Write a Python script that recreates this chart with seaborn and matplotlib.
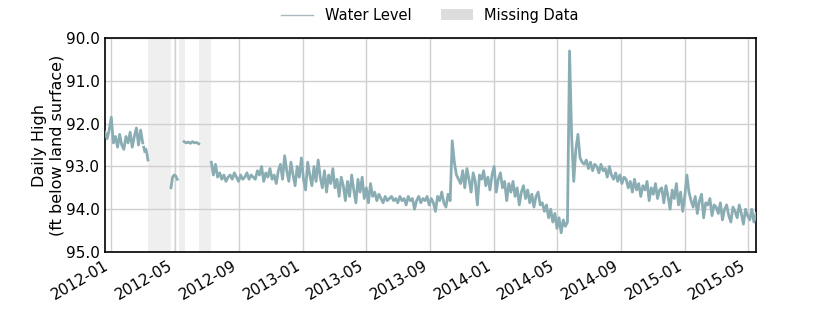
import numpy as np
import pandas as pd
import matplotlib
matplotlib.use("Agg")
import matplotlib.pyplot as plt
import matplotlib.dates as mdates
from matplotlib.lines import Line2D
from matplotlib.patches import Patch
import seaborn as sns

# ---- data ----
segA_start = "2011-12-20"
segA_vals = [92.2, 92.35, 92.15, 91.85, 92.45, 92.3, 92.55, 92.25, 92.5, 92.6,
             92.3, 92.45, 92.2, 92.55, 92.3, 92.1, 92.5, 92.15, 92.45]
segB_start = "2012-03-03"
segB_vals = [92.55, 92.65]
segC_start = "2012-03-07"
segC_vals = [92.6, 92.7, 92.85]
segD_start = "2012-04-24"
segD_vals = [93.5, 93.25, 93.2, 93.22, 93.3]
segE_start = "2012-05-19"
segE_vals = [92.42, 92.45, 92.43, 92.46, 92.42, 92.45, 92.44, 92.47]
segF_start = "2012-07-10"
segF_vals = [
    92.9, 93.2, 92.95, 93.25, 93.15, 93.3, 93.2, 93.35, 93.25, 93.2, 93.3, 93.15, 93.25, 93.35, 93.2, 93.3, 93.25, 93.15, 93.3, 93.2, 93.25,
    93.3, 93.1, 93.2, 93.0, 93.35, 93.15, 93.25, 93.05, 93.3, 93.2, 93.4, 93.1, 92.95, 93.3, 92.75, 93.1, 93.35, 92.9, 93.2, 93.45, 93.0, 93.25,
    92.8, 93.3, 93.55, 92.9, 93.2, 93.45, 93.0, 93.35, 92.85, 93.25, 93.5, 93.1, 93.6, 93.2, 93.4, 93.05, 93.5, 93.3, 93.7, 93.25, 93.45, 93.8,
    93.35, 93.7, 93.2, 93.55, 93.85, 93.3, 93.6, 93.25, 93.75, 93.5, 93.85, 93.4, 93.7, 93.6, 93.8, 93.65, 93.75, 93.85, 93.7, 93.8, 93.75,
    93.7, 93.8, 93.75, 93.85, 93.7, 93.8, 93.75, 93.9, 93.7, 93.8, 93.75, 94.0, 93.8, 93.7, 93.85, 93.75, 93.8, 93.7, 93.9, 93.75, 93.85, 94.05, 93.7, 93.8, 93.6, 93.85, 93.95, 93.65, 93.8,
    92.4,
    92.9, 93.2, 93.3,
    93.4, 93.1, 93.5, 93.05, 93.3, 93.6, 93.15, 93.35, 93.9, 93.2, 93.3, 93.1, 93.45, 93.25, 93.55, 93.2, 93.0, 93.6, 93.3, 93.15, 93.5, 93.35, 93.8,
    93.4, 93.6, 93.35, 93.7, 93.5, 93.9, 93.6, 93.45, 93.75, 93.55, 93.85, 93.65, 93.95, 93.7, 93.6, 93.9,
    93.85, 94.05, 93.9, 94.2, 94.0, 94.3, 94.1, 94.45, 94.2, 94.55, 94.25, 94.4, 94.3,
    90.3, 92.3, 93.35, 92.6, 92.25, 92.8, 92.9,
    92.95, 92.85, 93.05, 92.9, 93.1, 92.95, 93.0, 93.15,
    92.95, 93.1, 93.05, 93.25, 93.0, 93.2, 93.3, 93.15, 93.35, 93.2, 93.4, 93.25, 93.3, 93.5, 93.35, 93.6, 93.3, 93.55, 93.4, 93.7, 93.45, 93.55, 93.35, 93.8, 93.5, 93.65, 93.4, 93.75, 93.55,
    93.5, 93.85, 93.45, 93.7, 94.0, 93.55, 93.75, 93.4, 93.9, 93.6, 94.05, 93.7,
    93.2,
    93.6, 93.8, 93.95, 93.7, 94.1, 93.8, 93.65, 94.2, 93.85, 93.9, 93.75, 94.15, 93.9,
    93.95, 94.1, 93.85, 94.25, 94.0, 93.9, 94.15, 94.3, 93.95, 94.05, 94.2, 93.9, 94.1, 94.35, 94.0, 94.15, 94.25, 94.0, 94.3, 94.1,
]
missing_starts = ["2012-03-12", "2012-04-30", "2012-05-09", "2012-06-16"]
missing_ends = ["2012-04-24", "2012-05-01", "2012-05-20", "2012-07-10"]
y_ticks = [90.0, 91.0, 92.0, 93.0, 94.0, 95.0]
x_start, x_end = "2011-12-20", "2015-05-16"

segments = [
    (segA_start, "4D", segA_vals),
    (segB_start, "2D", segB_vals),
    (segC_start, "2D", segC_vals),
    (segD_start, "3D", segD_vals),
    (segE_start, "4D", segE_vals),
    (segF_start, "4D", segF_vals),
]
frames = []
for k, (s, f, v) in enumerate(segments):
    d = pd.date_range(s, periods=len(v), freq=f)
    frames.append(pd.DataFrame({"date": d, "level": v, "seg": k}))
df = pd.concat(frames, ignore_index=True)

line_color = "#8aadb4"

fig, ax = plt.subplots(figsize=(8.4, 3.15), dpi=100)
fig.subplots_adjust(left=0.125, right=0.9, bottom=0.2, top=0.879)

for s, e in zip(missing_starts, missing_ends):
    ax.axvspan(pd.Timestamp(s), pd.Timestamp(e), color="#efefef", lw=0, zorder=0)

sns.lineplot(data=df, x="date", y="level", units="seg", estimator=None,
             color=line_color, lw=2, ax=ax, legend=False, zorder=3)

ax.set_xlim(pd.Timestamp(x_start), pd.Timestamp(x_end))
ax.set_ylim(95.0, 90.0)
ax.set_yticks(y_ticks)
ax.yaxis.set_major_formatter(matplotlib.ticker.FormatStrFormatter("%.1f"))
ax.xaxis.set_major_locator(mdates.MonthLocator(bymonth=[1, 5, 9]))
ax.xaxis.set_major_formatter(mdates.DateFormatter("%Y-%m"))
ax.grid(True, color="#d0d0d0", lw=1, zorder=1)
ax.set_axisbelow(True)
for sp in ax.spines.values():
    sp.set_color("black")
    sp.set_linewidth(1.2)
ax.tick_params(axis="both", length=0, labelsize=11, pad=4)
plt.setp(ax.get_xticklabels(), rotation=30, ha="right")
ax.set_xlabel("")
ax.set_ylabel("Daily High\n(ft below land surface)", fontsize=11.5, labelpad=1)

handles = [Line2D([0], [0], color="#a9b9bd", lw=1),
           Patch(facecolor="#dddddd", edgecolor="none")]
fig.legend(handles, ["Water Level", "Missing Data"], loc="center",
           bbox_to_anchor=(0.512, 0.952), ncol=2, frameon=False, fontsize=10.5,
           handlelength=2.2, columnspacing=2.0)

fig.savefig("out.png", dpi=100)
